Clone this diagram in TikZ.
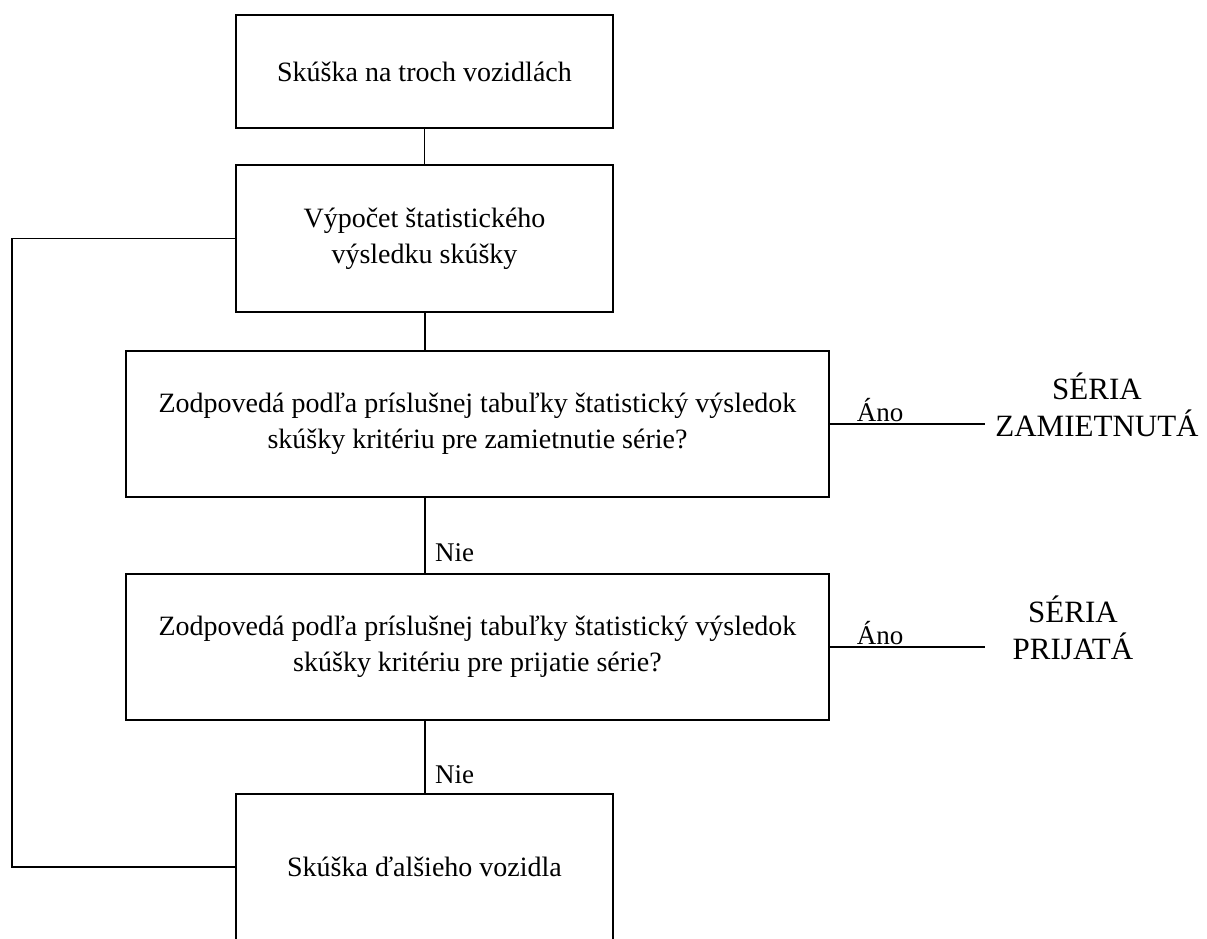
\documentclass[tikz,border=0pt]{standalone}
\usepackage{fontspec}
\setmainfont{Liberation Serif}
\begin{document}
\begin{tikzpicture}[x=1pt,y=-1pt,
  box/.style={draw, line width=1.8pt, align=center, inner sep=0pt,
    font=\fontsize{28}{36}\selectfont},
  conn/.style={line width=1.8pt},
  lbl/.style={font=\fontsize{27}{36}\selectfont, inner sep=0pt, align=center},
  serie/.style={font=\fontsize{31}{37}\selectfont, inner sep=0pt, align=center}]
\clip (0,0) rectangle (1207,938);
\useasboundingbox (0,0) rectangle (1207,938);
\node[box, minimum width=377pt, minimum height=113pt] (b1) at (424.5,71.5) {Skúška na troch vozidlách};
\node[box, minimum width=377pt, minimum height=147pt] (b2) at (424.5,238.5) {Výpočet štatistického\\výsledku skúšky};
\node[box, minimum width=703pt, minimum height=146pt] (b3) at (477.5,424) {Zodpovedá podľa príslušnej tabuľky štatistický výsledok\\skúšky kritériu pre zamietnutie série?};
\node[box, minimum width=703pt, minimum height=146pt] (b4) at (477.5,647) {Zodpovedá podľa príslušnej tabuľky štatistický výsledok\\skúšky kritériu pre prijatie série?};
\node[box, minimum width=377pt, minimum height=146pt] (b5) at (424.5,867) {Skúška ďalšieho vozidla};
\coordinate (cx) at (425,0);
\coordinate (a1) at (985,424);
\coordinate (a2) at (985,647);
\coordinate (lc) at (12,500);
\draw[conn] (b1) -- (b2);
\draw[conn] (b2.south -| cx) -- (b3.north -| cx);
\draw[conn] (b3.south -| cx) -- (b4.north -| cx);
\draw[conn] (b4.south -| cx) -- (b5.north -| cx);
\draw[conn] (b3.east) -- (a1);
\draw[conn] (b4.east) -- (a2);
\draw[conn] (b5.west) -| (lc) |- (b2.west);
\node[lbl, anchor=south] (ano1) at (880,422) {Áno};
\node[lbl, anchor=south] (ano2) at (880,645) {Áno};
\node[serie] (s1) at (1097,405) {SÉRIA\\ZAMIETNUTÁ};
\node[serie] (s2) at (1073,628) {SÉRIA\\PRIJATÁ};
\node[lbl, anchor=west] (n1) at (435,553) {Nie};
\node[lbl, anchor=west] (n2) at (435,775) {Nie};
\end{tikzpicture}
\end{document}
